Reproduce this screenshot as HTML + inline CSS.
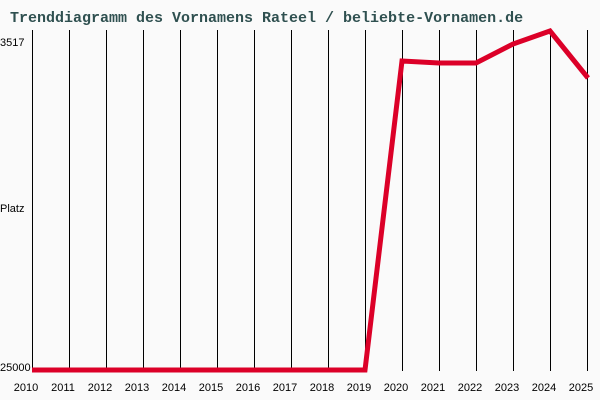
<!DOCTYPE html>
<html><head><meta charset="utf-8"><style>
html,body{margin:0;padding:0;background:#fafafa;}
svg{display:block;}
</style></head><body>
<svg width="600" height="400" xmlns="http://www.w3.org/2000/svg">
<rect width="600" height="400" fill="#fafafa"/>
<text x="10" y="22" font-family="Liberation Mono, monospace" font-weight="bold" font-size="15" fill="#2f5050">Trenddiagramm des Vornamens Rateel / beliebte-Vornamen.de</text>
<g stroke="#000" stroke-width="1">
<line x1="32.5" y1="30" x2="32.5" y2="371"/>
<line x1="69.5" y1="30" x2="69.5" y2="371"/>
<line x1="106.5" y1="30" x2="106.5" y2="371"/>
<line x1="143.5" y1="30" x2="143.5" y2="371"/>
<line x1="180.5" y1="30" x2="180.5" y2="371"/>
<line x1="217.5" y1="30" x2="217.5" y2="371"/>
<line x1="254.5" y1="30" x2="254.5" y2="371"/>
<line x1="291.5" y1="30" x2="291.5" y2="371"/>
<line x1="328.5" y1="30" x2="328.5" y2="371"/>
<line x1="365.5" y1="30" x2="365.5" y2="371"/>
<line x1="402.5" y1="30" x2="402.5" y2="371"/>
<line x1="439.5" y1="30" x2="439.5" y2="371"/>
<line x1="476.5" y1="30" x2="476.5" y2="371"/>
<line x1="513.5" y1="30" x2="513.5" y2="371"/>
<line x1="550.5" y1="30" x2="550.5" y2="371"/>
<line x1="587.5" y1="30" x2="587.5" y2="371"/>
</g>
<polyline fill="none" stroke="#dc0028" stroke-width="5" stroke-linejoin="miter" points="32,370 365,370 402,61 439,63 476,63 513,44 550,31 588,78"/>
<g font-family="Liberation Sans, sans-serif" font-size="11" fill="#000">
<text x="0" y="46">3517</text>
<text x="0" y="212">Platz</text>
<text x="0" y="371">25000</text>
</g>
<g font-family="Liberation Sans, sans-serif" font-size="11" fill="#000" text-anchor="middle">
<text x="26" y="391">2010</text>
<text x="63" y="391">2011</text>
<text x="100" y="391">2012</text>
<text x="137" y="391">2013</text>
<text x="174" y="391">2014</text>
<text x="211" y="391">2015</text>
<text x="248" y="391">2016</text>
<text x="285" y="391">2017</text>
<text x="322" y="391">2018</text>
<text x="359" y="391">2019</text>
<text x="396" y="391">2020</text>
<text x="433" y="391">2021</text>
<text x="470" y="391">2022</text>
<text x="507" y="391">2023</text>
<text x="544" y="391">2024</text>
<text x="581" y="391">2025</text>
</g>
</svg>
</body></html>
